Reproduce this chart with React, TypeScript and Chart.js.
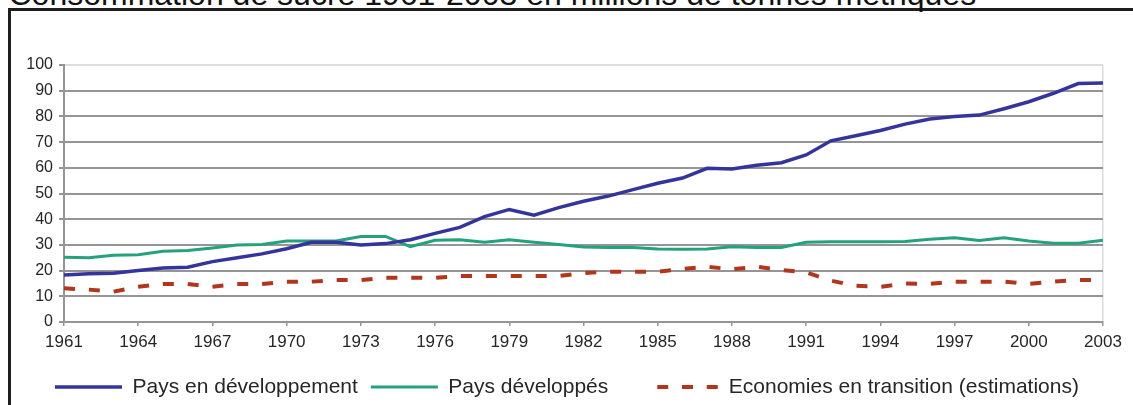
import React, { useEffect, useRef } from "react";
import { Chart, registerables } from "chart.js";

Chart.register(...registerables);

const TITLE = "Consommation de sucre 1961-2003 en millions de tonnes métriques";

const years = [
  1961, 1962, 1963, 1964, 1965, 1966, 1967, 1968, 1969, 1970,
  1971, 1972, 1973, 1974, 1975, 1976, 1977, 1978, 1979, 1980,
  1981, 1982, 1983, 1984, 1985, 1986, 1987, 1988, 1989, 1990,
  1991, 1992, 1993, 1994, 1995, 1996, 1997, 1998, 1999, 2000,
  2001, 2002, 2003,
];

const developing = [
  18.3, 18.8, 19, 20, 21, 21.3, 23.5, 25, 26.5, 28.5,
  31, 31, 30, 30.5, 32, 34.5, 36.8, 41, 43.8, 41.6,
  44.5, 47, 49, 51.5, 54, 56, 59.8, 59.5, 61, 62,
  65, 70.5, 72.5, 74.5, 77, 79, 80, 80.5, 83, 85.7,
  89, 92.8, 93,
];

const developed = [
  25.2, 25, 26, 26.2, 27.5, 27.8, 28.8, 30, 30.2, 31.5,
  31.5, 31.5, 33.3, 33.3, 29.3, 31.8, 32, 31, 32, 31,
  30.2, 29.2, 29, 29, 28.4, 28.3, 28.4, 29.3, 29, 29,
  31, 31.2, 31.2, 31.2, 31.3, 32.2, 32.8, 31.7, 32.8, 31.5,
  30.6, 30.6, 31.8,
];

const transition = [
  13.1, 12.6, 11.8, 13.7, 14.8, 14.8, 13.7, 14.8, 14.8, 15.7,
  15.7, 16.3, 16.3, 17.2, 17.2, 17.2, 17.9, 17.9, 17.9, 17.9,
  17.9, 19, 19.6, 19.6, 19.6, 20.6, 21.5, 20.5, 21.5, 20.2,
  19.3, 16.1, 14.1, 13.7, 15, 14.8, 15.7, 15.7, 15.7, 14.8,
  15.7, 16.3, 16.3,
];

const seriesLabels = [
  "Pays en développement",
  "Pays développés",
  "Economies en transition (estimations)",
];

const FONT = '"Liberation Sans", Arial, Helvetica, sans-serif';
const TEXT = "#262626";
const GRID = "#959595";

const legendGaps = [55, 13, 49];
const legendSymbolW = [67, 67, 61];

const legendPlugin = {
  id: "customLegend",
  afterDraw(chart: any) {
    const ctx = chart.ctx;
    ctx.save();
    ctx.font = `21px ${FONT}`;
    ctx.textBaseline = "middle";
    ctx.textAlign = "left";
    const y = 387;
    let x = 0;
    chart.data.datasets.forEach((ds: any, i: number) => {
      x += legendGaps[i];
      ctx.strokeStyle = ds.borderColor;
      ctx.lineWidth = ds.borderWidth;
      ctx.lineCap = "butt";
      ctx.setLineDash(ds.borderDash ? [11, 13.74] : []);
      ctx.beginPath();
      ctx.moveTo(x, y);
      ctx.lineTo(x + legendSymbolW[i], y);
      ctx.stroke();
      ctx.setLineDash([]);
      ctx.fillStyle = TEXT;
      const tx = x + legendSymbolW[i] + 10.5;
      ctx.fillText(ds.label, tx, y);
      x = tx + ctx.measureText(ds.label).width;
    });
    ctx.restore();
  },
};

export default function App() {
  const ref = useRef<HTMLCanvasElement | null>(null);

  useEffect(() => {
    if (!ref.current) return;
    const toPts = (vals: number[]) => years.map((yr, i) => ({ x: yr, y: vals[i] }));
    const chart = new Chart(ref.current, {
      type: "line",
      data: {
        datasets: [
          {
            label: seriesLabels[0],
            data: toPts(developing),
            borderColor: "#34349c",
            backgroundColor: "#34349c",
            borderWidth: 3.5,
            pointRadius: 0,
            tension: 0,
          },
          {
            label: seriesLabels[1],
            data: toPts(developed),
            borderColor: "#23a27c",
            backgroundColor: "#23a27c",
            borderWidth: 3,
            pointRadius: 0,
            tension: 0,
          },
          {
            label: seriesLabels[2],
            data: toPts(transition),
            borderColor: "#b3361c",
            backgroundColor: "#b3361c",
            borderWidth: 4,
            borderDash: [11, 13.9],
            borderCapStyle: "butt",
            pointRadius: 0,
            tension: 0,
          },
        ],
      },
      options: {
        responsive: false,
        animation: false,
        devicePixelRatio: 1,
        layout: { padding: { left: 0, right: 30, top: 65, bottom: 0 } },
        plugins: {
          legend: { display: false },
          tooltip: { enabled: false },
          title: { display: false },
        },
        scales: {
          x: {
            type: "linear",
            min: 1961,
            max: 2003,
            ticks: {
              stepSize: 3,
              autoSkip: false,
              maxRotation: 0,
              padding: 6,
              color: TEXT,
              font: { size: 17, family: FONT },
              callback: (v: any) => String(v),
            },
            grid: {
              color: (c: any) => (c.tick && c.tick.value === 2003 ? "#dcdcdc" : "rgba(0,0,0,0)"),
              tickColor: GRID,
              lineWidth: 1.5,
              tickLength: 4,
            },
            border: { color: GRID, width: 2 },
            afterFit: (s: any) => {
              s.height = 83;
            },
          },
          y: {
            min: 0,
            max: 100,
            ticks: {
              stepSize: 10,
              padding: 6,
              color: TEXT,
              font: { size: 16, family: FONT },
            },
            grid: {
              color: (c: any) => (c.tick && c.tick.value === 100 ? "#dcdcdc" : GRID),
              tickColor: GRID,
              lineWidth: 2,
              tickLength: 5,
            },
            border: { color: GRID, width: 2 },
            afterFit: (s: any) => {
              s.width = 64;
            },
          },
        },
      },
      plugins: [legendPlugin],
    });
    return () => chart.destroy();
  }, []);

  return (
    <div
      style={{
        position: "fixed",
        left: 0,
        top: 0,
        width: 1133,
        height: 405,
        background: "#fff",
        overflow: "hidden",
      }}
    >
      <div
        style={{
          position: "absolute",
          left: 8,
          top: 8,
          width: 1125,
          height: 397,
          borderLeft: "3px solid #1e1e1e",
          borderTop: "3px solid #1e1e1e",
          boxSizing: "border-box",
        }}
      />
      <div
        style={{
          position: "absolute",
          left: 8.5,
          top: -22,
          fontFamily: FONT,
          fontSize: 32,
          lineHeight: "32px",
          color: "#111",
          whiteSpace: "nowrap",
        }}
      >
        {TITLE}
      </div>
      <canvas
        ref={ref}
        width={1133}
        height={405}
        style={{ position: "absolute", left: 0, top: 0, width: 1133, height: 405 }}
      />
    </div>
  );
}
